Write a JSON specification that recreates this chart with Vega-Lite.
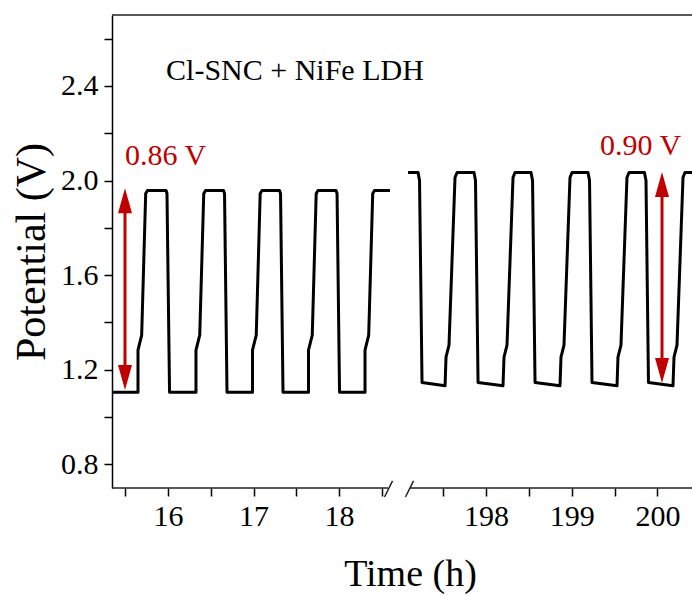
{
  "$schema": "https://vega.github.io/schema/vega-lite/v6.json",
  "usermeta": {"embedOptions": {"actions": false}},
  "width": 580,
  "height": 473,
  "autosize": {"type": "none"},
  "padding": {"left": 112, "top": 15, "right": 0, "bottom": 108},
  "background": "white",
  "config": {"view": {"stroke": null}, "font": "Liberation Serif"},
  "datasets": {
    "curve": [
      {"seg": "a", "t": 15.357, "v": 1.105},
      {"seg": "a", "t": 15.649, "v": 1.105},
      {"seg": "a", "t": 15.649, "v": 1.283},
      {"seg": "a", "t": 15.692, "v": 1.346},
      {"seg": "a", "t": 15.739, "v": 1.945},
      {"seg": "a", "t": 15.760, "v": 1.958},
      {"seg": "a", "t": 15.977, "v": 1.958},
      {"seg": "a", "t": 15.988, "v": 1.945},
      {"seg": "a", "t": 16.018, "v": 1.105},
      {"seg": "a", "t": 16.327, "v": 1.105},
      {"seg": "a", "t": 16.327, "v": 1.283},
      {"seg": "a", "t": 16.371, "v": 1.346},
      {"seg": "a", "t": 16.418, "v": 1.945},
      {"seg": "a", "t": 16.439, "v": 1.958},
      {"seg": "a", "t": 16.649, "v": 1.958},
      {"seg": "a", "t": 16.661, "v": 1.945},
      {"seg": "a", "t": 16.690, "v": 1.105},
      {"seg": "a", "t": 16.988, "v": 1.105},
      {"seg": "a", "t": 16.988, "v": 1.283},
      {"seg": "a", "t": 17.032, "v": 1.346},
      {"seg": "a", "t": 17.078, "v": 1.945},
      {"seg": "a", "t": 17.099, "v": 1.958},
      {"seg": "a", "t": 17.304, "v": 1.958},
      {"seg": "a", "t": 17.316, "v": 1.945},
      {"seg": "a", "t": 17.345, "v": 1.105},
      {"seg": "a", "t": 17.643, "v": 1.105},
      {"seg": "a", "t": 17.643, "v": 1.283},
      {"seg": "a", "t": 17.687, "v": 1.346},
      {"seg": "a", "t": 17.733, "v": 1.945},
      {"seg": "a", "t": 17.754, "v": 1.958},
      {"seg": "a", "t": 17.965, "v": 1.958},
      {"seg": "a", "t": 17.977, "v": 1.945},
      {"seg": "a", "t": 18.006, "v": 1.105},
      {"seg": "a", "t": 18.304, "v": 1.105},
      {"seg": "a", "t": 18.304, "v": 1.283},
      {"seg": "a", "t": 18.347, "v": 1.346},
      {"seg": "a", "t": 18.394, "v": 1.945},
      {"seg": "a", "t": 18.415, "v": 1.958},
      {"seg": "a", "t": 18.596, "v": 1.958},
      {"seg": "b", "t": 197.090, "v": 2.034},
      {"seg": "b", "t": 197.207, "v": 2.034},
      {"seg": "b", "t": 197.224, "v": 2.000},
      {"seg": "b", "t": 197.253, "v": 1.146},
      {"seg": "b", "t": 197.522, "v": 1.132},
      {"seg": "b", "t": 197.533, "v": 1.253},
      {"seg": "b", "t": 197.568, "v": 1.304},
      {"seg": "b", "t": 197.638, "v": 2.013},
      {"seg": "b", "t": 197.662, "v": 2.034},
      {"seg": "b", "t": 197.860, "v": 2.034},
      {"seg": "b", "t": 197.877, "v": 2.000},
      {"seg": "b", "t": 197.907, "v": 1.146},
      {"seg": "b", "t": 198.198, "v": 1.132},
      {"seg": "b", "t": 198.210, "v": 1.253},
      {"seg": "b", "t": 198.245, "v": 1.304},
      {"seg": "b", "t": 198.315, "v": 2.013},
      {"seg": "b", "t": 198.338, "v": 2.034},
      {"seg": "b", "t": 198.525, "v": 2.034},
      {"seg": "b", "t": 198.543, "v": 2.000},
      {"seg": "b", "t": 198.572, "v": 1.146},
      {"seg": "b", "t": 198.863, "v": 1.132},
      {"seg": "b", "t": 198.875, "v": 1.253},
      {"seg": "b", "t": 198.910, "v": 1.304},
      {"seg": "b", "t": 198.980, "v": 2.013},
      {"seg": "b", "t": 199.004, "v": 2.034},
      {"seg": "b", "t": 199.190, "v": 2.034},
      {"seg": "b", "t": 199.208, "v": 2.000},
      {"seg": "b", "t": 199.237, "v": 1.146},
      {"seg": "b", "t": 199.529, "v": 1.132},
      {"seg": "b", "t": 199.540, "v": 1.253},
      {"seg": "b", "t": 199.575, "v": 1.304},
      {"seg": "b", "t": 199.645, "v": 2.013},
      {"seg": "b", "t": 199.669, "v": 2.034},
      {"seg": "b", "t": 199.849, "v": 2.034},
      {"seg": "b", "t": 199.867, "v": 2.000},
      {"seg": "b", "t": 199.896, "v": 1.146},
      {"seg": "b", "t": 200.182, "v": 1.132},
      {"seg": "b", "t": 200.194, "v": 1.253},
      {"seg": "b", "t": 200.229, "v": 1.304},
      {"seg": "b", "t": 200.299, "v": 2.013},
      {"seg": "b", "t": 200.322, "v": 2.034},
      {"seg": "b", "t": 200.404, "v": 2.034}
    ],
    "frame": [
      {"t": 15.345, "t2": 18.573, "v": 0.7},
      {"t": 197.113, "t2": 200.404, "v": 0.7},
      {"t": 15.345, "t2": 200.404, "v": 2.7}
    ],
    "breaks": [
      {"t": 18.532, "t2": 18.626, "v": 0.662, "v2": 0.730},
      {"t": 197.060, "t2": 197.154, "v": 0.662, "v2": 0.730}
    ],
    "shafts": [
      {"t": 15.497, "v": 1.167, "v2": 1.915},
      {"t": 200.054, "v": 1.197, "v2": 1.983}
    ],
    "heads": [
      {"t": 15.497, "v": 1.915, "dir": "up"},
      {"t": 15.497, "v": 1.167, "dir": "down"},
      {"t": 200.054, "v": 1.983, "dir": "up"},
      {"t": 200.054, "v": 1.197, "dir": "down"}
    ],
    "labels": [
      {"t": 15.977, "v": 2.425, "txt": "Cl-SNC + NiFe LDH", "kind": "note"},
      {"t": 15.497, "v": 2.066, "txt": "0.86 V", "kind": "delta"},
      {"t": 199.330, "v": 2.108, "txt": "0.90 V", "kind": "delta"}
    ]
  },
  "encoding": {
    "x": {
      "field": "t",
      "type": "quantitative",
      "scale": {"domain": [15.345, 18.678, 196.961, 200.404], "range": [0, 285, 285, 580], "nice": false, "zero": false},
      "axis": {
        "title": "Time (h)",
        "values": [15.5, 16, 16.5, 17, 17.5, 18, 18.5, 197.5, 198, 198.5, 199, 199.5, 200],
        "format": "d",
        "labelExpr": "datum.value % 1 === 0 ? datum.label : ''",
        "domain": false,
        "grid": false,
        "tickSize": 8,
        "tickWidth": 1.5,
        "tickColor": "black",
        "labelFont": "Liberation Serif",
        "labelFontSize": 30,
        "labelColor": "black",
        "labelPadding": 5,
        "labelFlush": false,
        "labelOverlap": false,
        "titleFont": "Liberation Serif",
        "titleFontSize": 38,
        "titleFontWeight": "normal",
        "titleColor": "black",
        "titlePadding": 24,
        "titleX": 298,
        "encode": {"ticks": {"update": {"y2": {"signal": "datum.value % 1 === 0 ? 8 : 5"}}}}
      }
    },
    "y": {
      "field": "v",
      "type": "quantitative",
      "scale": {"domain": [0.7, 2.7], "nice": false, "zero": false},
      "axis": {
        "title": "Potential (V)",
        "values": [0.8, 1.0, 1.2, 1.4, 1.6, 1.8, 2.0, 2.2, 2.4, 2.6],
        "format": ".1f",
        "labelExpr": "round(datum.value * 10) % 4 === 0 ? datum.label : ''",
        "domain": true,
        "domainColor": "black",
        "domainWidth": 1.5,
        "grid": false,
        "tickSize": 8,
        "tickWidth": 1.5,
        "tickColor": "black",
        "labelFont": "Liberation Serif",
        "labelFontSize": 30,
        "labelColor": "black",
        "labelPadding": 6,
        "labelFlush": false,
        "labelOverlap": false,
        "titleFont": "Liberation Serif",
        "titleFontSize": 42,
        "titleFontWeight": "normal",
        "titleColor": "black",
        "titlePadding": 7,
        "encode": {"ticks": {"update": {"x2": {"signal": "round(datum.value * 10) % 4 === 0 ? -8 : -5"}}}}
      }
    }
  },
  "layer": [
    {
      "data": {"name": "frame"},
      "mark": {"type": "rule", "color": "#222222", "strokeWidth": 1.5},
      "encoding": {"x2": {"field": "t2"}}
    },
    {
      "data": {"name": "breaks"},
      "mark": {"type": "rule", "color": "#222222", "strokeWidth": 1.5},
      "encoding": {"x2": {"field": "t2"}, "y2": {"field": "v2"}}
    },
    {
      "data": {"name": "curve"},
      "mark": {"type": "line", "color": "black", "strokeWidth": 3, "strokeJoin": "round"},
      "encoding": {"detail": {"field": "seg", "type": "nominal"}, "order": {"value": null}}
    },
    {
      "data": {"name": "shafts"},
      "mark": {"type": "rule", "color": "#c00000", "strokeWidth": 3},
      "encoding": {"y2": {"field": "v2"}}
    },
    {
      "data": {"name": "heads"},
      "mark": {"type": "point", "filled": true, "color": "#c00000", "opacity": 1, "size": 625},
      "encoding": {
        "shape": {
          "field": "dir",
          "type": "nominal",
          "scale": {"domain": ["up", "down"], "range": ["M0,-1L0.56,1L-0.56,1Z", "M0,1L0.56,-1L-0.56,-1Z"]},
          "legend": null
        }
      }
    },
    {
      "data": {"name": "labels"},
      "mark": {"type": "text", "align": "left", "baseline": "alphabetic", "font": "Liberation Serif", "fontSize": 30},
      "encoding": {
        "text": {"field": "txt"},
        "color": {
          "field": "kind",
          "type": "nominal",
          "scale": {"domain": ["note", "delta"], "range": ["black", "#c00000"]},
          "legend": null
        }
      }
    }
  ]
}
